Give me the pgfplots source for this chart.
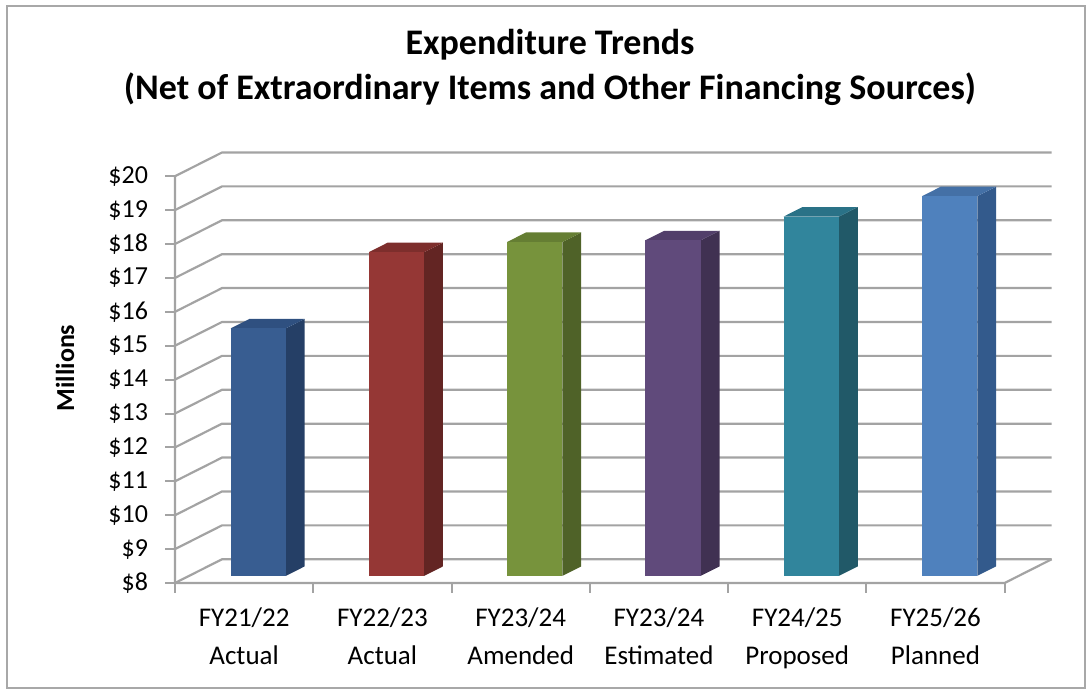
\documentclass[border=0pt]{standalone}
\usepackage{fontspec}
\setmainfont{Carlito}
\usepackage{pgfplots}
\usepackage{pgfplotstable}
\pgfplotsset{compat=1.18}

\definecolor{gridc}{HTML}{A3A3A3}
\definecolor{borderc}{HTML}{A8A8A8}
\definecolor{front0}{HTML}{385D91}
\definecolor{side0}{HTML}{253F66}
\definecolor{top0}{HTML}{2F5080}
\definecolor{front1}{HTML}{953735}
\definecolor{side1}{HTML}{632523}
\definecolor{top1}{HTML}{7D2E2C}
\definecolor{front2}{HTML}{77933C}
\definecolor{side2}{HTML}{4F6228}
\definecolor{top2}{HTML}{657E33}
\definecolor{front3}{HTML}{604A7B}
\definecolor{side3}{HTML}{403152}
\definecolor{top3}{HTML}{523F6A}
\definecolor{front4}{HTML}{31859C}
\definecolor{side4}{HTML}{215968}
\definecolor{top4}{HTML}{2A7287}
\definecolor{front5}{HTML}{4F81BD}
\definecolor{side5}{HTML}{335A8C}
\definecolor{top5}{HTML}{4470A6}

\pgfplotstableread{
idx val
0 15.3
1 17.55
2 17.85
3 17.9
4 18.6
5 19.2
}\expdata

\begin{document}
\begin{tikzpicture}
\useasboundingbox (0,0) rectangle (545.5pt,347pt);
\draw[borderc, line width=1pt] (3.5pt,3pt) rectangle (542.5pt,344pt);
\node[align=center, font=\bfseries\fontsize{18}{22.5}\selectfont] at (275pt,313.5pt)
  {Expenditure Trends\\(Net of Extraordinary Items and Other Financing Sources)};
\node[rotate=90, font=\bfseries\fontsize{13}{15}\selectfont] at (32.5pt,163pt) {Millions};
\begin{axis}[
  at={(87.5pt,55.5pt)}, anchor=south west,
  width=439pt, height=215.25pt, scale only axis,
  xmin=0, xmax=6.35, ymin=8, ymax=20.7,
  clip=false,
  axis x line*=bottom, axis y line*=left,
  axis line style={draw=none},
  tick align=outside,
  major tick length=5pt,
  tick style={gridc, line width=1pt},
  ytick={8,9,...,20},
  yticklabel={\$\pgfmathprintnumber{\tick}},
  /pgf/number format/assume math mode=true,
  yticklabel style={font=\fontsize{13}{15}\selectfont, xshift=-5pt},
  xtick={0,1,...,6},
  xticklabels={},
  extra x ticks={0.5,1.5,2.5,3.5,4.5,5.5},
  extra x tick labels={{FY21/22\\Actual},{FY22/23\\Actual},{FY23/24\\Amended},{FY23/24\\Estimated},{FY24/25\\Proposed},{FY25/26\\Planned}},
  extra x tick style={major tick length=0pt},
  x tick label style={align=center, font=\fontsize{13.5}{19}\selectfont, yshift=-9pt},
]
% walls and grid
\pgfplotsinvokeforeach{8,9,...,20}{
  \addplot[gridc, line width=1.1pt, mark=none] coordinates {(0,#1) (0.34,#1.7) (6.34,#1.7)};
}
\addplot[gridc, line width=1.1pt, mark=none] coordinates {(0,20) (0,8) (6,8) (6.34,8.7)};
% bars
\pgfplotsinvokeforeach{0,...,5}{
  \pgfplotstablegetelem{#1}{val}\of\expdata
  \pgfmathsetmacro\va{\pgfplotsretval+0.21}
  \pgfmathsetmacro\vb{\pgfplotsretval+0.49}
  \pgfmathsetmacro\xa{#1+0.402}
  \pgfmathsetmacro\xb{#1+0.802}
  \pgfmathsetmacro\xc{#1+0.938}
  \pgfmathsetmacro\xd{#1+0.538}
  \addplot[draw=none, fill=side#1, mark=none] coordinates {(\xb,8.21) (\xc,8.49) (\xc,\vb) (\xb,\va)};
  \addplot[draw=none, fill=top#1, mark=none] coordinates {(\xa,\va) (\xb,\va) (\xc,\vb) (\xd,\vb)};
  \addplot[draw=none, fill=front#1, mark=none] coordinates {(\xa,8.21) (\xb,8.21) (\xb,\va) (\xa,\va)};
}
\end{axis}
\end{tikzpicture}
\end{document}
